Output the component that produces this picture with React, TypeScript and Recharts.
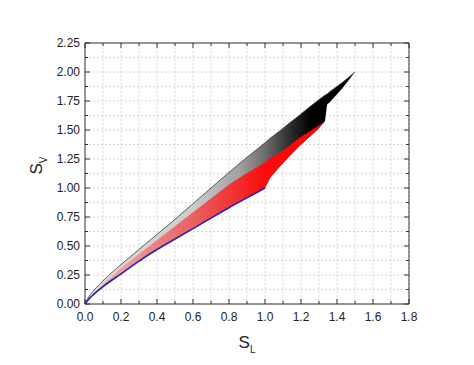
import {
  ComposedChart,
  Area,
  Line,
  XAxis,
  YAxis,
  CartesianGrid,
  ReferenceArea,
} from 'recharts'

// S_L samples along the outline of the point clouds
const sL = [
  0, 0.02, 0.05, 0.1, 0.2, 0.3, 0.4, 0.5, 0.6, 0.7, 0.8, 0.9, 1.0, 1.03, 1.08,
  1.14, 1.19, 1.24, 1.29, 1.333, 1.345, 1.36, 1.43, 1.5,
]
// upper edge of the black cloud
const cloudTop = [
  0, 0.06, 0.12, 0.2, 0.34, 0.47, 0.6, 0.73, 0.865, 1.0, 1.135, 1.265, 1.39, 1.43,
  1.49, 1.565, 1.625, 1.69, 1.75, 1.8, 1.81, 1.83, 1.91, 2.0,
]
// lower edge of the whole cloud (blue curve, then red right edge, then black)
const cloudBottom = [
  0, 0.04, 0.085, 0.15, 0.26, 0.37, 0.47, 0.56, 0.65, 0.74, 0.83, 0.915, 1.0,
  1.09, 1.18, 1.28, 1.36, 1.43, 1.5, 1.575, 1.72, 1.74, 1.86, 2.0,
]
// upper edge of the red cloud
const redTop = [
  0, 0.05, 0.1, 0.17, 0.31, 0.43, 0.55, 0.67, 0.79, 0.91, 1.03, 1.13, 1.22,
  1.26, 1.3, 1.37, 1.43, 1.48, 1.53, 1.575,
]
// blue boundary curve
const blueEdge = [0, 0.04, 0.085, 0.15, 0.26, 0.37, 0.47, 0.56, 0.65, 0.74, 0.83, 0.915, 1.0]

const xTicks = [0, 0.1, 0.2, 0.3, 0.4, 0.5, 0.6, 0.7, 0.8, 0.9, 1.0, 1.1, 1.2, 1.3, 1.4, 1.5, 1.6, 1.7, 1.8]
const yTicks = [
  0, 0.125, 0.25, 0.375, 0.5, 0.625, 0.75, 0.875, 1.0, 1.125, 1.25, 1.375, 1.5,
  1.625, 1.75, 1.875, 2.0, 2.125, 2.25,
]

const data = sL.map((x, i) => ({
  x,
  black: [cloudBottom[i], cloudTop[i]],
  red: i < redTop.length ? [cloudBottom[i], redTop[i]] : null,
  blue: i < blueEdge.length ? blueEdge[i] : null,
  top: cloudTop[i],
}))

const W = 466
const H = 349
const margin = { top: 35, right: 65, bottom: 3, left: 17 }
const PLOT_TOP = margin.top
const PLOT_RIGHT = W - margin.right
const X_GAP = 8
const Y_GAP = 5
const font = '"Liberation Sans", Arial, sans-serif'

function XTick(props: any) {
  const { x, y, payload } = props
  const v = payload.value
  const major = Math.round(v * 10) % 2 === 0
  const len = major ? 5 : 3
  const axisY = y - X_GAP
  return (
    <g>
      <line x1={x} y1={axisY} x2={x} y2={axisY - len} stroke="#333" />
      <line x1={x} y1={PLOT_TOP} x2={x} y2={PLOT_TOP + len} stroke="#333" />
      {major && (
        <text x={x} y={y} dy="0.71em" textAnchor="middle" fontSize={12} fill="#222" fontFamily={font}>
          {v.toFixed(1)}
        </text>
      )}
    </g>
  )
}

function YTick(props: any) {
  const { x, y, payload } = props
  const v = payload.value
  const major = Math.round(v * 8) % 2 === 0
  const len = major ? 5 : 3
  const axisX = x + Y_GAP
  return (
    <g>
      <line x1={axisX} y1={y} x2={axisX + len} y2={y} stroke="#333" />
      <line x1={PLOT_RIGHT} y1={y} x2={PLOT_RIGHT - len} y2={y} stroke="#333" />
      {major && (
        <text x={x} y={y} dy="0.35em" textAnchor="end" fontSize={12} fill="#222" fontFamily={font}>
          {v.toFixed(2)}
        </text>
      )}
    </g>
  )
}

function XLabel(props: any) {
  const { viewBox } = props
  return (
    <text x={viewBox.x + viewBox.width / 2} y={viewBox.y + 44} textAnchor="middle" fontFamily={font} fill="#222">
      <tspan fontSize={17}>S</tspan>
      <tspan fontSize={10} dy={5}>L</tspan>
    </text>
  )
}

function YLabel(props: any) {
  const { viewBox } = props
  const cx = 34
  const cy = viewBox.y + viewBox.height / 2 - 8
  return (
    <text x={cx} y={cy} transform={`rotate(-90, ${cx}, ${cy})`} textAnchor="middle" fontFamily={font} fill="#222">
      <tspan fontSize={17}>S</tspan>
      <tspan fontSize={10} dy={5}>V</tspan>
    </text>
  )
}

export default function App() {
  return (
    <ComposedChart width={W} height={H} data={data} margin={margin}>
      <defs>
        <linearGradient id="blackFill" x1="0" y1="0" x2="1" y2="0">
          <stop offset="0%" stopColor="#dedede" />
          <stop offset="40%" stopColor="#cbcbcb" />
          <stop offset="57%" stopColor="#a2a2a2" />
          <stop offset="67%" stopColor="#6a6a6a" />
          <stop offset="77%" stopColor="#262626" />
          <stop offset="84%" stopColor="#000" />
          <stop offset="100%" stopColor="#000" />
        </linearGradient>
        <linearGradient id="redFill" x1="0" y1="0" x2="1" y2="0">
          <stop offset="0%" stopColor="#f2b8b8" />
          <stop offset="22%" stopColor="#ee9090" />
          <stop offset="45%" stopColor="#ec6060" />
          <stop offset="64%" stopColor="#f22c2c" />
          <stop offset="75%" stopColor="#ff0a0a" />
          <stop offset="100%" stopColor="#ff0000" />
        </linearGradient>
      </defs>

      <CartesianGrid stroke="#d6d6d6" strokeDasharray="2 2" />

      <XAxis
        dataKey="x"
        type="number"
        domain={[0, 1.8]}
        ticks={xTicks}
        interval={0}
        tickSize={0}
        tickMargin={X_GAP}
        tickLine={false}
        axisLine={false}
        tick={XTick}
        height={50}
        label={{ content: XLabel }}
      />
      <YAxis
        type="number"
        domain={[0, 2.25]}
        ticks={yTicks}
        interval={0}
        tickSize={0}
        tickMargin={Y_GAP}
        tickLine={false}
        axisLine={false}
        tick={YTick}
        width={60}
        label={{ content: YLabel }}
      />

      <Area
        dataKey="black"
        type="linear"
        stroke="none"
        fill="url(#blackFill)"
        fillOpacity={1}
        dot={false}
        activeDot={false}
        isAnimationActive={false}
      />
      <Area
        dataKey="red"
        type="linear"
        stroke="none"
        fill="url(#redFill)"
        fillOpacity={1}
        dot={false}
        activeDot={false}
        isAnimationActive={false}
      />
      <Line dataKey="top" type="monotone" stroke="#3c3c3c" strokeWidth={0.8} dot={false} activeDot={false} isAnimationActive={false} />
      <Line dataKey="blue" type="monotone" stroke="#2323b0" strokeWidth={1.6} dot={false} activeDot={false} isAnimationActive={false} />

      <ReferenceArea x1={0} x2={1.8} y1={0} y2={2.25} fill="none" stroke="#333" strokeWidth={1} ifOverflow="visible" />
    </ComposedChart>
  )
}
